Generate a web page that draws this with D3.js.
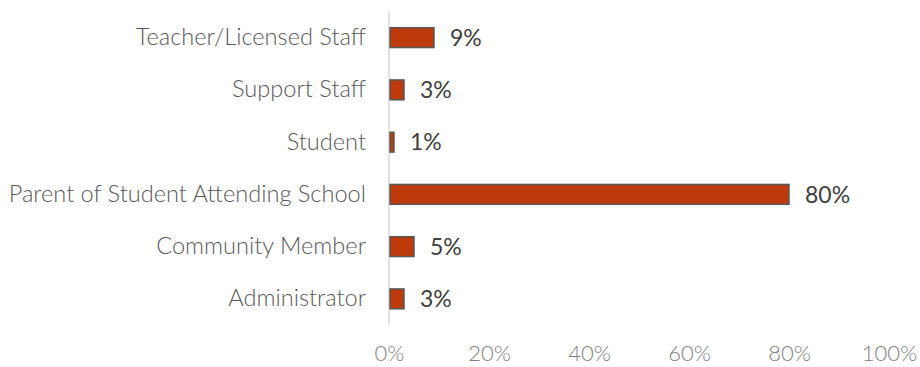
<!DOCTYPE html>
<html>
<head>
<meta charset="utf-8">
<script src="https://cdn.jsdelivr.net/npm/d3@7"></script>
<style>
  html, body { margin: 0; padding: 0; background: #fff; }
  svg { display: block; }
</style>
</head>
<body>
<svg id="chart" width="920" height="367"></svg>
<script>
// Respondent roles and their share of responses (percent)
const categories = [
  "Teacher/Licensed Staff",
  "Support Staff",
  "Student",
  "Parent of Student Attending School",
  "Community Member",
  "Administrator"
];
const shares = [9, 3, 1, 80, 5, 3];
const tickValues = [0, 20, 40, 60, 80, 100];

const svg = d3.select("#chart");
const font = "Lato, 'Open Sans', sans-serif";

const x = d3.scaleLinear().domain([0, 100]).range([389, 889]);
const y = d3.scaleBand().domain(categories).range([11.5, 325]).paddingInner(0.62).paddingOuter(0.31);

// Vertical baseline
svg.append("line")
  .attr("x1", x(0)).attr("x2", x(0))
  .attr("y1", 11.5).attr("y2", 325)
  .attr("stroke", "#d9d9d9").attr("stroke-width", 1.5);

// Bars
svg.append("g").selectAll("rect")
  .data(categories)
  .join("rect")
  .attr("x", x(0) + 1)
  .attr("y", d => y(d))
  .attr("width", (d, i) => x(shares[i]) - x(0) - 1)
  .attr("height", y.bandwidth())
  .attr("fill", "#BE3A0B")
  .attr("stroke", "#595959")
  .attr("stroke-width", 1.5);

// Value labels
svg.append("g").selectAll("text")
  .data(categories)
  .join("text")
  .attr("x", (d, i) => x(shares[i]) + 16)
  .attr("y", d => y(d) + y.bandwidth() / 2)
  .attr("dy", "0.36em")
  .attr("font-family", font)
  .attr("font-weight", 400)
  .attr("font-size", 23)
  .attr("fill", "#404040")
  .text((d, i) => shares[i] + "%");

// Category labels
const yAxis = d3.axisLeft(y).tickSize(0).tickPadding(23);
const gy = svg.append("g").attr("transform", `translate(${x(0)},0)`).call(yAxis);
gy.select(".domain").remove();
gy.selectAll("text")
  .attr("font-family", font)
  .attr("font-weight", 300)
  .attr("font-size", 23.6)
  .attr("fill", "#595959");

// Percentage axis labels
const xAxis = d3.axisBottom(x).tickValues(tickValues).tickSize(0).tickPadding(0)
  .tickFormat(d => d + "%");
const gx = svg.append("g").attr("transform", "translate(0,345)").call(xAxis);
gx.select(".domain").remove();
gx.selectAll("text")
  .attr("font-family", font)
  .attr("font-weight", 300)
  .attr("font-size", 22)
  .attr("fill", "#7f7f7f");
</script>
</body>
</html>
